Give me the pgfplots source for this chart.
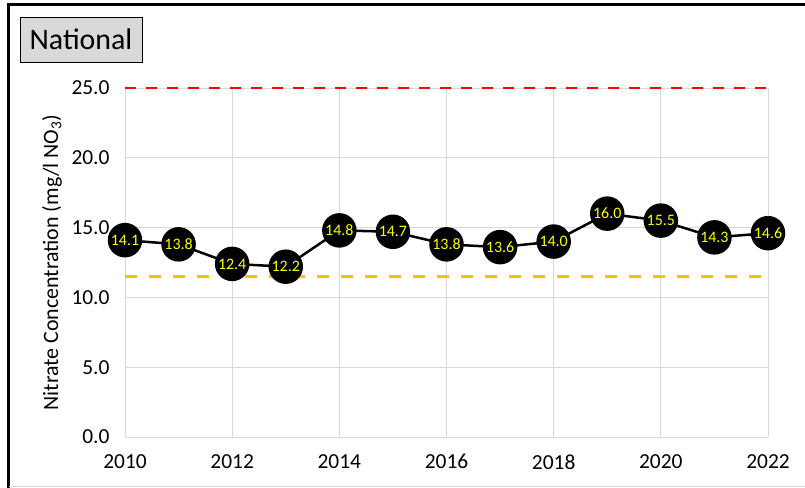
\documentclass[border=0pt]{standalone}
\usepackage{pgfplots}
\pgfplotsset{compat=1.18}
\usepackage{fontspec}
\setmainfont{Carlito}
\definecolor{gridgray}{HTML}{D9D9D9}
\definecolor{refred}{HTML}{FF0000}
\definecolor{reforange}{HTML}{FFC000}
\definecolor{labyellow}{HTML}{FFFF00}
\begin{document}
\begin{tikzpicture}
\useasboundingbox (-125bp,-51bp) rectangle (680bp,437bp);
\fill[white] (-125bp,-51bp) rectangle (680bp,437bp);
\draw[line width=3bp, black] (-116bp,-51bp) -- (-116bp,432bp) -- (680bp,432bp);
\draw[line width=0.6bp, gridgray] (-116bp,-49bp) -- (680bp,-49bp);
\node[draw=black, line width=0.8bp, fill=gridgray, minimum width=122bp, minimum height=45bp, inner sep=0pt, font=\fontsize{30}{34}\selectfont] at (-44bp,397.5bp) {National};
\begin{axis}[
  at={(0,0)}, anchor=south west,
  scale only axis, width=643bp, height=349bp,
  xmin=2010, xmax=2022, ymin=0, ymax=25,
  xtick={2010,2012,...,2022},
  ytick={0,5,...,25},
  xticklabel style={/pgf/number format/1000 sep={}, yshift=-14bp},
  yticklabel style={/pgf/number format/fixed, /pgf/number format/fixed zerofill, /pgf/number format/precision=1, xshift=-12bp},
  /pgf/number format/assume math mode=true,
  tick label style={font=\fontsize{21.5}{25}\selectfont},
  major tick length=0pt,
  grid=major,
  major grid style={gridgray, line width=0.8bp},
  axis line style={gridgray, line width=0.8bp},
  axis x line*=bottom, axis y line*=left,
  ylabel={Nitrate Concentration (mg/l NO\textsubscript{3})},
  ylabel style={font=\fontsize{22}{26}\selectfont, at={(axis description cs:-0.1135,0.5)}, anchor=center},
  clip=false,
]
\addplot[refred, line width=1.8bp, dash pattern=on 11bp off 10bp, forget plot] coordinates {(2010,25) (2022,25)};
\addplot[reforange, line width=3bp, dash pattern=on 12bp off 12bp, forget plot] coordinates {(2010,11.5) (2022,11.5)};
\addplot[black, line width=2.5bp, mark=*, mark size=16bp, mark options={fill=black},
  nodes near coords, point meta=explicit symbolic,
  every node near coord/.append style={anchor=center, text=labyellow, font=\fontsize{16}{19}\selectfont}]
  table[meta=lab] {
x y lab
2010 14.1 14.1
2011 13.8 13.8
2012 12.4 12.4
2013 12.2 12.2
2014 14.8 14.8
2015 14.7 14.7
2016 13.8 13.8
2017 13.6 13.6
2018 14.0 14.0
2019 16.0 16.0
2020 15.5 15.5
2021 14.3 14.3
2022 14.6 14.6
};
\end{axis}
\end{tikzpicture}
\end{document}
